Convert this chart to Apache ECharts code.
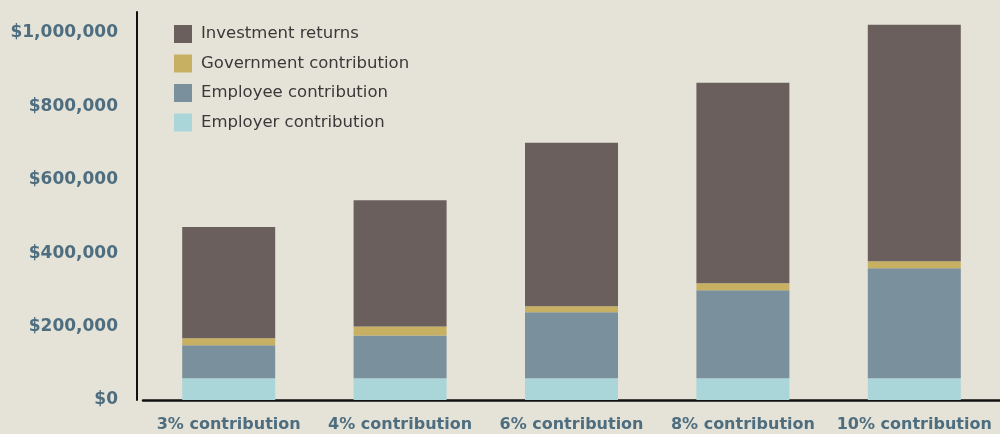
<!DOCTYPE html>
<html>
<head>
<meta charset="utf-8">
<script src="https://cdn.jsdelivr.net/npm/echarts@6/dist/echarts.min.js"></script>
<style>
  html, body { margin: 0; padding: 0; background: #e5e3d7; }
  #main { width: 1000px; height: 434px; }
</style>
</head>
<body>
<div id="main"></div>
<script>
// 数据
var categories = ['3% contribution', '4% contribution', '6% contribution', '8% contribution', '10% contribution']
var employer = [59000, 59000, 59000, 59000, 59000]
var employee = [90000, 117000, 180000, 240000, 300000]
var government = [19000, 24500, 16500, 19000, 19000]
var investment = [303000, 344000, 445000, 546000, 644000]

var fmtMoney = function(v) {
    if (v > 1000000) return ''
    return '$' + v.toLocaleString('en-US')
}

var mychart = echarts.init(document.getElementById('main'))
mychart.setOption({
    backgroundColor: '#e5e3d7',
    animation: false,
    grid: {
        left: 143,
        right: 0,
        top: 12,
        bottom: 34
    },
    legend: {
        orient: 'vertical',
        left: 174,
        top: 25,
        padding: 0,
        itemWidth: 18,
        itemHeight: 18,
        itemGap: 11.5,
        icon: 'rect',
        data: ['Investment returns', 'Government contribution', 'Employee contribution', 'Employer contribution'],
        textStyle: {
            fontFamily: 'DejaVu Sans',
            fontSize: 16.5,
            color: '#3a3838',
            padding: [0, 0, 0, 4]
        }
    },
    xAxis: {
        type: 'category',
        data: categories,
        axisTick: { show: false },
        axisLine: { lineStyle: { color: '#111', width: 2.5 } },
        axisLabel: {
            interval: 0,
            margin: 17,
            fontFamily: 'DejaVu Sans',
            fontWeight: 'bold',
            fontSize: 16,
            color: '#4e6e80'
        }
    },
    yAxis: {
        type: 'value',
        min: 0,
        max: 1057000,
        interval: 200000,
        offset: 6,
        splitLine: { show: false },
        axisTick: { show: false },
        axisLine: { show: true, lineStyle: { color: '#111', width: 2 } },
        axisLabel: {
            margin: 19,
            fontFamily: 'DejaVu Sans',
            fontWeight: 'bold',
            fontSize: 17,
            color: '#4e6e80',
            formatter: fmtMoney
        }
    },
    series: [
        {
            name: 'Employer contribution',
            type: 'bar',
            stack: 'total',
            barWidth: 93,
            itemStyle: { color: '#aad6d9' },
            data: employer
        },
        {
            name: 'Employee contribution',
            type: 'bar',
            stack: 'total',
            itemStyle: { color: '#7a909c' },
            data: employee
        },
        {
            name: 'Government contribution',
            type: 'bar',
            stack: 'total',
            itemStyle: { color: '#c8b063' },
            data: government
        },
        {
            name: 'Investment returns',
            type: 'bar',
            stack: 'total',
            itemStyle: { color: '#6a5f5c' },
            data: investment
        }
    ]
})
</script>
</body>
</html>
